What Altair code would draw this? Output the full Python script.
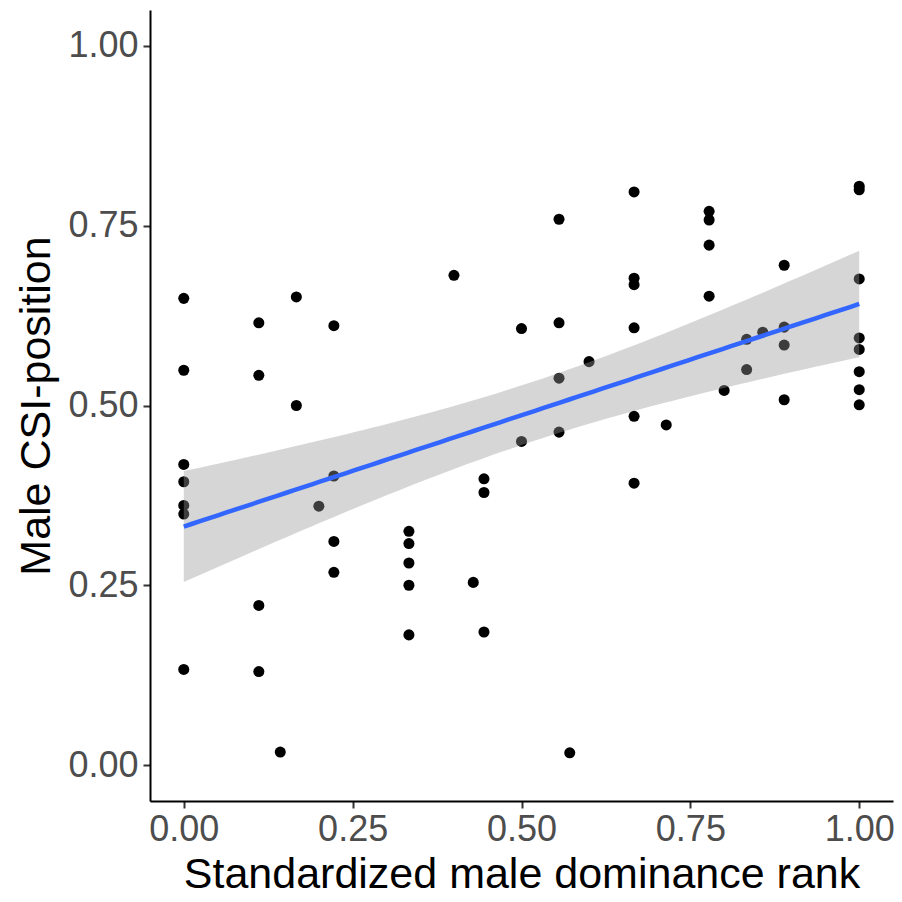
import altair as alt
import numpy as np
import pandas as pd

# Standardized male dominance rank (x) and male CSI-position (y)
rank_x = (
    [0.0] * 7
    + [1/9] * 4
    + [1/7]
    + [1/6] * 2
    + [0.2]
    + [2/9] * 4
    + [1/3] * 5
    + [0.4]
    + [3/7]
    + [4/9] * 3
    + [0.5] * 2
    + [5/9] * 4
    + [4/7]
    + [0.6]
    + [2/3] * 6
    + [5/7]
    + [7/9] * 4
    + [0.8]
    + [5/6] * 2
    + [6/7]
    + [8/9] * 4
    + [1.0] * 8
)
csi_y = [
    0.649, 0.549, 0.418, 0.394, 0.361, 0.349, 0.133,
    0.615, 0.542, 0.222, 0.130,
    0.018,
    0.651, 0.500,
    0.360,
    0.611, 0.402, 0.311, 0.268,
    0.325, 0.308, 0.281, 0.250, 0.181,
    0.681,
    0.254,
    0.398, 0.379, 0.185,
    0.607, 0.450,
    0.759, 0.615, 0.538, 0.463,
    0.017,
    0.561,
    0.797, 0.677, 0.668, 0.608, 0.485, 0.392,
    0.473,
    0.770, 0.758, 0.723, 0.652,
    0.521,
    0.592, 0.550,
    0.602,
    0.695, 0.609, 0.584, 0.508,
    0.805, 0.800, 0.676, 0.594, 0.578, 0.547, 0.522, 0.501,
]
tick_values = [0.0, 0.25, 0.5, 0.75, 1.0]

points = pd.DataFrame({"rank": rank_x, "csi": csi_y})

# Linear model fit with 95% confidence band (like geom_smooth(method="lm"))
x = np.array(rank_x)
y = np.array(csi_y)
n = len(x)
b1, b0 = np.polyfit(x, y, 1)
resid = y - (b0 + b1 * x)
s = np.sqrt((resid ** 2).sum() / (n - 2))
xm = x.mean()
sxx = ((x - xm) ** 2).sum()
df_ = n - 2
z = 1.959964
tq = z + (z**3 + z) / (4 * df_) + (5 * z**5 + 16 * z**3 + 3 * z) / (96 * df_**2)
grid = np.linspace(x.min(), x.max(), 80)
fit = b0 + b1 * grid
se = s * np.sqrt(1 / n + (grid - xm) ** 2 / sxx)
smooth = pd.DataFrame({"rank": grid, "fit": fit, "lo": fit - tq * se, "hi": fit + tq * se})

FONT = "Liberation Sans"
xscale = alt.Scale(domain=[-0.05, 1.05], nice=False, zero=False)
yscale = alt.Scale(domain=[-0.05, 1.05], nice=False, zero=False)

axis_style = dict(
    values=tick_values,
    format=".2f",
    grid=False,
    domainColor="black",
    domainWidth=2,
    tickColor="#333333",
    tickWidth=2,
    tickSize=7,
    labelColor="#4D4D4D",
    labelFont=FONT,
    labelFontSize=36,
    titleFont=FONT,
    titleFontSize=43,
    titleFontWeight="normal",
    titleColor="black",
)

xaxis = alt.Axis(title="Standardized male dominance rank", labelPadding=4, titlePadding=6, **axis_style)
yaxis = alt.Axis(title="Male CSI-position", labelPadding=5, titlePadding=9, **axis_style)

pts = alt.Chart(points).mark_circle(size=122, color="black", opacity=1).encode(
    x=alt.X("rank:Q", scale=xscale, axis=xaxis),
    y=alt.Y("csi:Q", scale=yscale, axis=yaxis),
)

band = alt.Chart(smooth).mark_area(color="#999999", opacity=0.4).encode(
    x=alt.X("rank:Q", scale=xscale),
    y=alt.Y("lo:Q", scale=yscale),
    y2="hi:Q",
)

line = alt.Chart(smooth).mark_line(color="#3366FF", strokeWidth=4.5).encode(
    x=alt.X("rank:Q", scale=xscale),
    y=alt.Y("fit:Q", scale=yscale),
)

chart = (
    alt.layer(pts, band, line)
    .properties(
        width=743,
        height=791,
        autosize=alt.AutoSizeParams(type="none"),
        padding={"left": 150, "top": 10, "right": 9, "bottom": 101},
        background="white",
    )
    .configure_view(stroke=None)
)

chart.save("out.html", embed_options={"renderer": "svg", "actions": False})
